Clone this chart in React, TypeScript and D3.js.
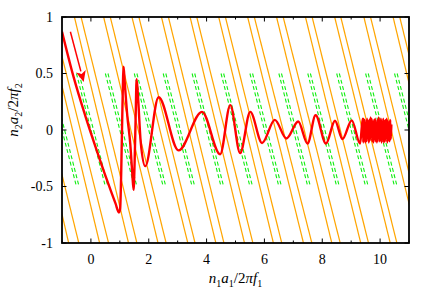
import { useEffect, useRef } from 'react';
import * as d3 from 'd3';

const W = 436;
const H = 305;

const xDomain: [number, number] = [-1, 11];
const yDomain: [number, number] = [-1, 1];
const xMajorTicks = [0, 2, 4, 6, 8, 10];
const xMinorTicks = [-1, 1, 3, 5, 7, 9, 11];
const yTicks = [-1, -0.5, 0, 0.5, 1];
const yTickLabels = ['-1', '-0.5', '0', '0.5', '1'];

// orange lines, read as the x where each crosses y = 1 (top) and y = -1 (bottom)
const orangeTopA = [-2.57, -1.57, -0.57, 0.44, 1.42, 2.44, 3.43, 4.42, 5.42, 6.42, 7.42, 8.43, 9.44, 10.45];
const orangeBottomA = [-0.77, 0.3, 1.3, 2.32, 3.35, 4.32, 5.31, 6.31, 7.35, 8.33, 9.33, 10.35, 11.33, 12.33];
const orangeTopB = [-2.34, -1.34, -0.34, 0.67, 1.66, 2.68, 3.66, 4.65, 5.65, 6.65, 7.65, 8.64, 9.67, 10.68];
const orangeBottomB = [-0.42, 0.61, 1.59, 2.6, 3.6, 4.6, 5.6, 6.6, 7.64, 8.62, 9.6, 10.58, 11.6, 12.6];

// green dashed segments: x at y = 0.5 (top) and y = -0.5 (bottom)
const greenTop = [-1.5, -0.5, 0.5, 1.5, 2.5, 3.5, 4.5, 5.5, 6.5, 7.5, 8.5, 9.5, 10.5];
const greenBottom = [-0.5, 0.5, 1.5, 2.5, 3.5, 4.5, 5.5, 6.5, 7.5, 8.5, 9.5, 10.5, 11.5];
const greenPairGap = 0.09;

// red trajectory
const trajectory: [number, number][] = [
  [-1.0, 0.87], [-0.6, 0.47], [-0.2, 0.13], [0.2, -0.18], [0.55, -0.44], [0.85, -0.65],
  [0.97, -0.73], [1.01, -0.7], [1.05, -0.35], [1.09, 0.2], [1.13, 0.56], [1.17, 0.42],
  [1.26, 0.12], [1.36, -0.12], [1.43, -0.38], [1.475, -0.53], [1.51, -0.3], [1.55, 0.15],
  [1.58, 0.45], [1.62, 0.33], [1.72, -0.1], [1.88, -0.32], [2.34, 0.29], [3.03, -0.18],
  [3.84, 0.16], [4.47, -0.215], [4.82, 0.22], [5.16, -0.205], [5.51, 0.16], [5.92, -0.115],
  [6.36, 0.09], [6.76, -0.075], [7.17, 0.075], [7.49, -0.12], [7.77, 0.13], [8.13, -0.12],
  [8.44, 0.082], [8.7, -0.08], [9.02, 0.085], [9.31, -0.12],
];

// the noisy tail at the right end
const noisyTail: [number, number][] = [
  [9.4, 0.1], [9.42, -0.11], [9.43, 0.1], [9.45, -0.08], [9.47, 0.09], [9.49, -0.11], [9.51, 0.06],
  [9.53, -0.1], [9.55, 0.1], [9.57, -0.07], [9.59, 0.08], [9.61, -0.11], [9.63, 0.09], [9.65, -0.09],
  [9.67, 0.11], [9.69, -0.06], [9.71, 0.1], [9.73, -0.1], [9.75, 0.07], [9.77, -0.11], [9.79, 0.09],
  [9.81, -0.08], [9.83, 0.1], [9.85, -0.1], [9.87, 0.06], [9.89, -0.11], [9.91, 0.09], [9.93, -0.07],
  [9.95, 0.11], [9.97, -0.1], [9.99, 0.08], [10.01, -0.09], [10.03, 0.1], [10.05, -0.11], [10.07, 0.07],
  [10.09, -0.08], [10.11, 0.1], [10.13, -0.11], [10.15, 0.08], [10.17, -0.1], [10.19, 0.09], [10.21, -0.07],
  [10.23, 0.1], [10.25, -0.11], [10.27, 0.08], [10.29, -0.09], [10.31, 0.07], [10.33, -0.1], [10.35, 0.09],
  [10.37, -0.08], [10.39, 0.05],
];

const arrowFrom: [number, number] = [-0.71, 0.87];
const arrowTo: [number, number] = [-0.25, 0.425];

type Seg = { t: string; it?: boolean; sub?: boolean };
const xTitle: Seg[] = [
  { t: 'n', it: true }, { t: '1', sub: true }, { t: 'a', it: true }, { t: '1', sub: true },
  { t: '/2' }, { t: 'πf', it: true }, { t: '1', sub: true },
];
const yTitle: Seg[] = [
  { t: 'n', it: true }, { t: '2', sub: true }, { t: 'a', it: true }, { t: '2', sub: true },
  { t: '/2' }, { t: 'πf', it: true }, { t: '2', sub: true },
];

const FONT = "'Liberation Serif', 'DejaVu Serif', serif";

export default function App() {
  const svgRef = useRef<SVGSVGElement>(null);

  useEffect(() => {
    const svg = d3.select(svgRef.current);
    svg.selectAll('*').remove();

    const left = 62, right = 409, top = 17, bottom = 243;
    const x = d3.scaleLinear().domain(xDomain).range([left, right]);
    const y = d3.scaleLinear().domain(yDomain).range([bottom, top]);

    svg.append('rect').attr('width', W).attr('height', H).attr('fill', '#fff');

    svg.append('defs').append('clipPath').attr('id', 'plot-clip')
      .append('rect')
      .attr('x', left).attr('y', top)
      .attr('width', right - left).attr('height', bottom - top);

    const plot = svg.append('g').attr('clip-path', 'url(#plot-clip)');

    // orange lines
    const drawOrange = (tops: number[], bottoms: number[]) => {
      plot.selectAll(null)
        .data(d3.zip(tops, bottoms))
        .enter().append('line')
        .attr('x1', d => x(d[0])).attr('y1', y(1))
        .attr('x2', d => x(d[1])).attr('y2', y(-1))
        .attr('stroke', '#ffa500')
        .attr('stroke-width', 1.2);
    };
    drawOrange(orangeTopA, orangeBottomA);
    drawOrange(orangeTopB, orangeBottomB);

    // green dashed pairs
    [0, greenPairGap].forEach(off => {
      plot.selectAll(null)
        .data(d3.zip(greenTop, greenBottom))
        .enter().append('line')
        .attr('x1', d => x(d[0] + off)).attr('y1', y(0.5))
        .attr('x2', d => x(d[1] + off)).attr('y2', y(-0.5))
        .attr('stroke', '#11ee11')
        .attr('stroke-width', 1.1)
        .attr('stroke-dasharray', '4,2.5');
    });

    // red trajectory
    const line = d3.line<[number, number]>()
      .x(d => x(d[0]))
      .y(d => y(d[1]))
      .curve(d3.curveMonotoneX);

    plot.append('path')
      .datum(trajectory.concat(noisyTail))
      .attr('d', line)
      .attr('fill', 'none')
      .attr('stroke', '#ff0000')
      .attr('stroke-width', 2.4)
      .attr('stroke-linejoin', 'round');

    // arrow
    const ax1 = x(arrowFrom[0]), ay1 = y(arrowFrom[1]);
    const ax2 = x(arrowTo[0]), ay2 = y(arrowTo[1]);
    const len = Math.hypot(ax2 - ax1, ay2 - ay1);
    const ux = (ax2 - ax1) / len, uy = (ay2 - ay1) / len;
    const headLen = 11, headHalf = 5;
    const bx = ax2 - ux * headLen, by = ay2 - uy * headLen;
    plot.append('line')
      .attr('x1', ax1).attr('y1', ay1)
      .attr('x2', bx).attr('y2', by)
      .attr('stroke', '#ff0000')
      .attr('stroke-width', 1.5);
    plot.append('path')
      .attr('d', `M${ax2},${ay2} L${bx - uy * headHalf},${by + ux * headHalf} L${ax2 - ux * headLen * 0.75},${ay2 - uy * headLen * 0.75} L${bx + uy * headHalf},${by - ux * headHalf} Z`)
      .attr('fill', '#ff0000');

    // ticks (inward, mirrored)
    const ticks = svg.append('g').attr('stroke', '#000').attr('stroke-width', 1);
    const addXTicks = (vals: number[], size: number) => {
      vals.forEach(v => {
        ticks.append('line').attr('x1', x(v)).attr('x2', x(v)).attr('y1', bottom).attr('y2', bottom - size);
        ticks.append('line').attr('x1', x(v)).attr('x2', x(v)).attr('y1', top).attr('y2', top + size);
      });
    };
    addXTicks(xMajorTicks, 4.5);
    addXTicks(xMinorTicks, 2.5);
    yTicks.forEach(v => {
      ticks.append('line').attr('x1', left).attr('x2', left + 4.5).attr('y1', y(v)).attr('y2', y(v));
      ticks.append('line').attr('x1', right).attr('x2', right - 4.5).attr('y1', y(v)).attr('y2', y(v));
    });

    // frame
    svg.append('rect')
      .attr('x', left).attr('y', top)
      .attr('width', right - left).attr('height', bottom - top)
      .attr('fill', 'none')
      .attr('stroke', '#000')
      .attr('stroke-width', 1.8);

    // tick labels
    svg.append('g').selectAll('text')
      .data(xMajorTicks)
      .enter().append('text')
      .attr('x', d => x(d))
      .attr('y', 264)
      .attr('text-anchor', 'middle')
      .style('font-family', FONT)
      .style('font-size', '14px')
      .text(d => String(d));

    svg.append('g').selectAll('text')
      .data(yTicks)
      .enter().append('text')
      .attr('x', 53)
      .attr('y', d => y(d) + 4.6)
      .attr('text-anchor', 'end')
      .style('font-family', FONT)
      .style('font-size', '14px')
      .text((d, i) => yTickLabels[i]);

    // axis titles
    const writeTitle = (sel: d3.Selection<SVGTextElement, unknown, null, undefined>, segs: Seg[]) => {
      let shifted = false;
      segs.forEach(s => {
        const ts = sel.append('tspan').text(s.t);
        if (s.it) ts.style('font-style', 'italic');
        if (s.sub && !shifted) { ts.attr('dy', 3.5).style('font-size', '10px'); shifted = true; }
        else if (s.sub) { ts.style('font-size', '10px'); }
        else if (shifted) { ts.attr('dy', -3.5); shifted = false; }
      });
    };

    const xt = svg.append('text')
      .attr('x', (left + right) / 2)
      .attr('y', 283)
      .attr('text-anchor', 'middle')
      .style('font-family', FONT)
      .style('font-size', '15px');
    writeTitle(xt, xTitle);

    const yt = svg.append('text')
      .attr('transform', `translate(18,${(top + bottom) / 2 - 20}) rotate(-90)`)
      .attr('text-anchor', 'middle')
      .style('font-family', FONT)
      .style('font-size', '15px');
    writeTitle(yt, yTitle);
  }, []);

  return (
    <svg
      ref={svgRef}
      width={W}
      height={H}
      style={{ position: 'absolute', left: 0, top: 0 }}
    />
  );
}
